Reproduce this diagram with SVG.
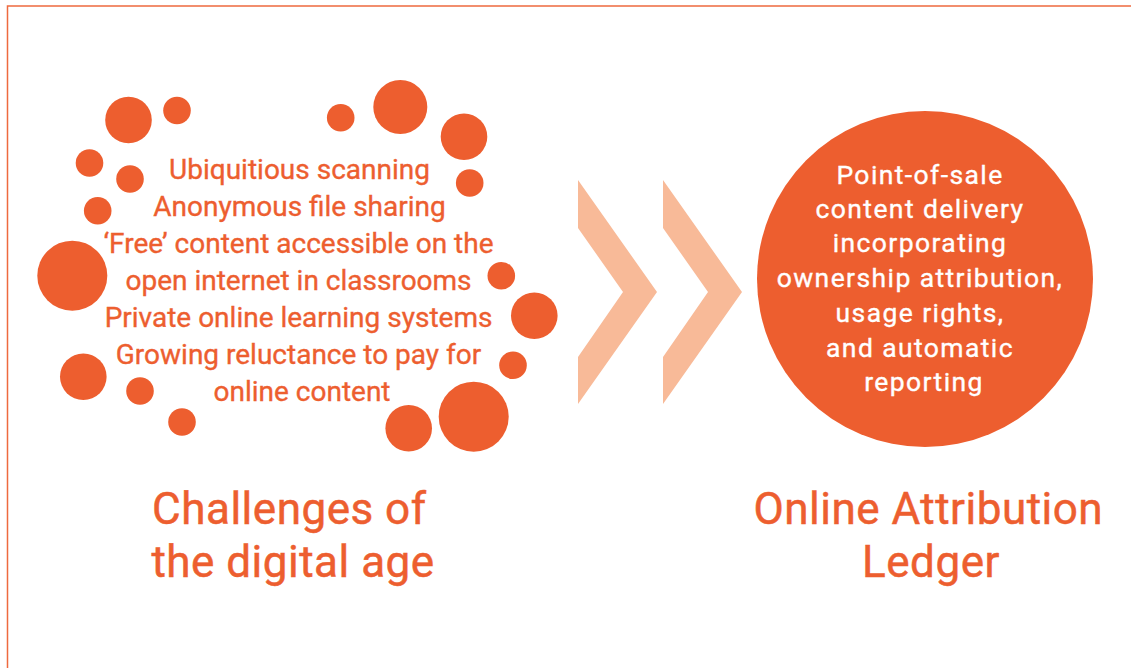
<svg xmlns="http://www.w3.org/2000/svg" width="1131" height="668" viewBox="0 0 1131 668">
  <style>
    .dot { fill: #ED5E2F; }
    .chev { fill: #F8BA98; }
    .frame { fill: none; stroke: #EE6A3F; stroke-width: 1.5; }
    .list { font-family: Roboto, "Liberation Sans", sans-serif; font-size: 28px; fill: #ED5E2F; stroke: #ED5E2F; stroke-width: 0.35px; text-anchor: middle; }
    .inner { font-family: Roboto, "Liberation Sans", sans-serif; font-size: 26.5px; letter-spacing: 1.4px; fill: #FFFFFF; stroke: #FFFFFF; stroke-width: 0.35px; text-anchor: middle; }
    .title { font-family: Roboto, "Liberation Sans", sans-serif; font-size: 44px; letter-spacing: 0.5px; fill: #ED5E2F; stroke: #ED5E2F; stroke-width: 0.5px; text-anchor: middle; }
  </style>
  <rect width="1131" height="668" fill="#FFFFFF"/>
  <!-- page frame: top and left rules -->
  <path class="frame" d="M7.5 668 V6 H1131"/>

  <!-- left node: ring of dots with the challenge list -->
  <g id="challenges">
    <g id="dot-ring">
      <circle class="dot" cx="128.5" cy="120" r="23.3"/>
      <circle class="dot" cx="177" cy="110.5" r="13.8"/>
      <circle class="dot" cx="89.5" cy="163" r="13.8"/>
      <circle class="dot" cx="130" cy="179" r="13.8"/>
      <circle class="dot" cx="97.7" cy="210.7" r="13.8"/>
      <circle class="dot" cx="72.3" cy="275.7" r="35"/>
      <circle class="dot" cx="83.3" cy="376.7" r="23.3"/>
      <circle class="dot" cx="140" cy="391" r="13.8"/>
      <circle class="dot" cx="182" cy="422" r="13.8"/>
      <circle class="dot" cx="340.7" cy="117.7" r="13.8"/>
      <circle class="dot" cx="400.3" cy="107" r="27"/>
      <circle class="dot" cx="464" cy="136.7" r="23.3"/>
      <circle class="dot" cx="469.7" cy="183" r="13.8"/>
      <circle class="dot" cx="501.3" cy="275.7" r="13.8"/>
      <circle class="dot" cx="534.3" cy="315.7" r="23.3"/>
      <circle class="dot" cx="513" cy="365.3" r="13.8"/>
      <circle class="dot" cx="473.7" cy="416.7" r="35"/>
      <circle class="dot" cx="408.7" cy="428.3" r="23.3"/>
    </g>
    <text class="list">
      <tspan x="303" y="178.5">Ubiquitious scanning</tspan>
      <tspan x="303" y="215.6">Anonymous file sharing</tspan>
      <tspan x="302" y="252.7">‘Free’ content accessible on the</tspan>
      <tspan x="302" y="289.8">open internet in classrooms</tspan>
      <tspan x="302" y="326.9">Private online learning systems</tspan>
      <tspan x="302" y="364">Growing reluctance to pay for</tspan>
      <tspan x="302" y="401">online content</tspan>
    </text>
    <text class="title">
      <tspan x="295" y="523.5">Challenges of</tspan>
      <tspan x="293" y="577">the digital age</tspan>
    </text>
  </g>

  <!-- connector: double chevron -->
  <g id="connectors">
    <polygon class="chev" points="578,180 657,292 578,404 578,357 623,292 578,228"/>
    <polygon class="chev" points="663,180 742,292 663,404 663,357 708,292 663,228"/>
  </g>

  <!-- right node: the ledger -->
  <g id="ledger">
    <circle class="dot" cx="925" cy="279" r="168"/>
    <text class="inner">
      <tspan x="924" y="183.5">Point-of-sale</tspan>
      <tspan x="924" y="218.3">content delivery</tspan>
      <tspan x="924" y="252">incorporating</tspan>
      <tspan x="924" y="286.8">ownership attribution,</tspan>
      <tspan x="924" y="321.7">usage rights,</tspan>
      <tspan x="924" y="356.7">and automatic</tspan>
      <tspan x="924" y="391.2">reporting</tspan>
    </text>
    <text class="title">
      <tspan x="934" y="523.5">Online Attribution</tspan>
      <tspan x="931" y="577">Ledger</tspan>
    </text>
  </g>
</svg>
